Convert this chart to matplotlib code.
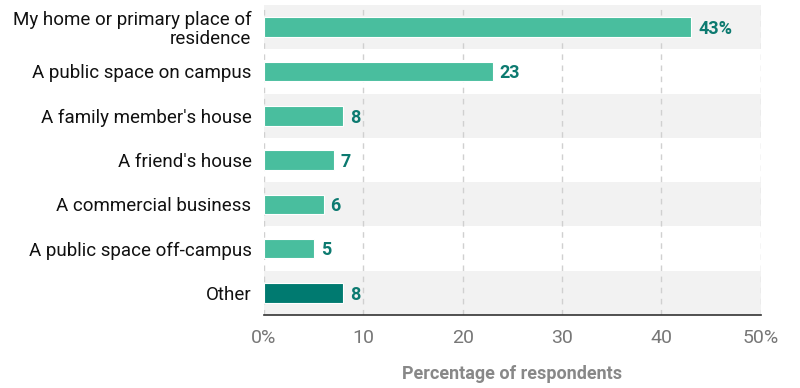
import matplotlib.pyplot as plt
from matplotlib.transforms import ScaledTranslation

# data
categories = ["My home or primary place of\nresidence", "A public space on campus",
              "A family member's house", "A friend's house", "A commercial business",
              "A public space off-campus", "Other"]
values = [43, 23, 8, 7, 6, 5, 8]
labels = ["43%", "23", "8", "7", "6", "5", "8"]
colors = ["#49be9e"] * 6 + ["#007a70"]
ticks = [0, 10, 20, 30, 40, 50]
tick_labels = ["0%", "10", "20", "30", "40", "50%"]

plt.rcParams['font.family'] = ['Roboto', 'DejaVu Sans']

fig = plt.figure(figsize=(8, 3.88), dpi=100)
ax = fig.add_axes([0.33, 0.188, 0.621, 0.799])

n = len(categories)
ys = list(range(n))

# alternating bands
for i in ys:
    if i % 2 == 0:
        ax.axhspan(i - 0.5, i + 0.5, color="#f2f2f2", zorder=0, lw=0)

ax.barh(ys, values, height=0.44, color=colors, edgecolor="white", linewidth=0.8, zorder=3)

for y, v, t in zip(ys, values, labels):
    ax.text(v + 0.7, y + 0.04, t, va="center", ha="left", fontsize=13, fontweight="bold",
            color="#0c7a70", zorder=4)

ax.set_ylim(n - 0.5, -0.5)
ax.set_xlim(0, 50)
ax.set_yticks(ys)
ax.set_yticklabels(categories, fontsize=13.5, color="#111111", linespacing=1.05)
# labels sit a little above the bar centre
shift = ScaledTranslation(0, 3 / 100, fig.dpi_scale_trans)
for lbl in ax.get_yticklabels():
    lbl.set_transform(lbl.get_transform() + shift)
ax.set_xticks(ticks)
ax.set_xticklabels(tick_labels, fontsize=14, color="#777777")
ax.tick_params(axis="both", length=0)
ax.tick_params(axis="x", pad=10)
ax.tick_params(axis="y", pad=9)

ax.xaxis.grid(True, linestyle=(0, (4, 4)), color="#d0d0d0", linewidth=1, zorder=1)
ax.set_axisbelow(True)
for s in ["top", "right", "left"]:
    ax.spines[s].set_visible(False)
ax.spines["bottom"].set_color("#333333")
ax.spines["bottom"].set_linewidth(1.2)

ax.set_xlabel("Percentage of respondents", fontsize=13, fontweight="bold",
              color="#888888", labelpad=13)

fig.savefig("out.png", dpi=100)
